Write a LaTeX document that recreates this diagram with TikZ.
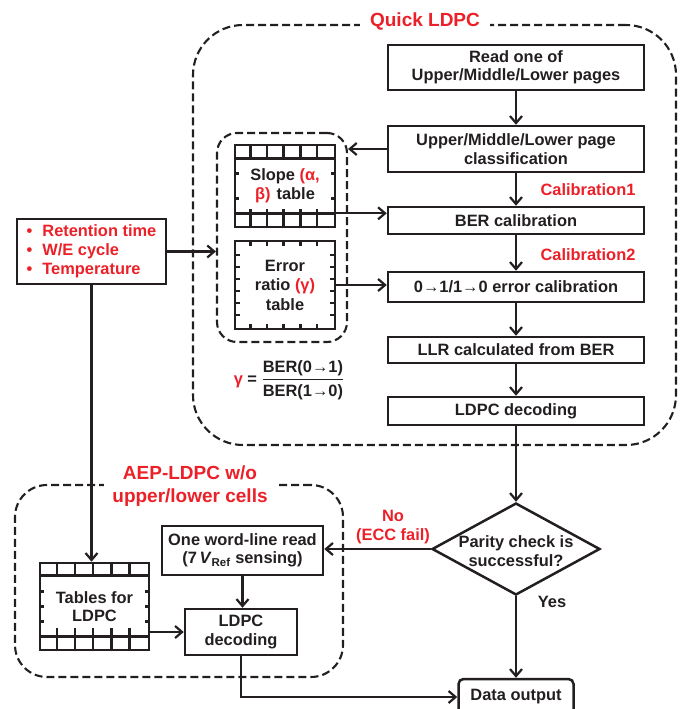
\documentclass[tikz,border=0pt]{standalone}
\usepackage{amsmath}
\usepackage{fontspec}
\setmainfont{Liberation Sans}
\usetikzlibrary{shapes.geometric,arrows.meta}
\definecolor{ldpcred}{RGB}{236,32,40}
\definecolor{ink}{RGB}{35,31,32}
\tikzset{
	proc/.style={draw=ink, line width=2.5pt, text=ink, align=center, inner sep=0pt, font=\fontsize{16.4}{18.5}\selectfont\bfseries},
	tbl/.style={proc, line width=2.6pt},
	grp/.style={draw=ink, line width=2.1pt, dash pattern=on 8pt off 4pt, inner sep=0pt},
	grid/.style={ink, line width=2.5pt},
	arr/.style={->, draw=ink, line width=2.2pt},
	note/.style={text=ldpcred, align=center, font=\fontsize{16.4}{19}\selectfont\bfseries},
	title/.style={text=ldpcred, fill=white, align=center, inner xsep=10pt, inner ysep=1pt, font=\fontsize{19}{23}\selectfont\bfseries},
}

\begin{document}
\begin{tikzpicture}[x=1pt, y=-1pt, >={Straight Barb[length=7pt,width=12pt]}]
	\useasboundingbox (0,0) rectangle (685,709);
	% dashed groups
	\node[grp, rounded corners=50pt, minimum width=483pt, minimum height=420pt] (quick) at (434.5,235) {};
	\node[grp, rounded corners=20pt, minimum width=130pt, minimum height=209pt] (inner) at (282,237.5) {};
	\node[grp, rounded corners=32pt, minimum width=328pt, minimum height=192pt] (aep) at (179,581) {};
	\node[title] (qtitle) at (425,21) {Quick LDPC};
	\node[title, inner xsep=8pt] (atitle) at (190,486.5) {AEP-LDPC w/o\\upper/lower cells};
	
	% quick LDPC column
	\node[proc, minimum width=256pt, minimum height=45pt] (read) at (516,67.5) {Read one of\\Upper/Middle/Lower pages};
	\node[proc, minimum width=256pt, minimum height=46pt] (cls) at (516,149) {Upper/Middle/Lower page\\classification};
	\node[proc, minimum width=256pt, minimum height=27pt] (ber) at (516,220.5) {BER calibration};
	\node[proc, minimum width=256pt, minimum height=30pt] (err) at (516,287) {0→1/1→0 error calibration};
	\node[proc, minimum width=256pt, minimum height=26pt] (llr) at (516,350) {LLR calculated from BER};
	\node[proc, minimum width=256pt, minimum height=28pt] (dec) at (516,411) {LDPC decoding};
	\node[note] (cal1) at (588,190) {Calibration1};
	\node[note] (cal2) at (588,255) {Calibration2};
	
	% tables
	\node[tbl, minimum width=100pt, minimum height=82pt] (sl) at (285,186) {Slope {\color{ldpcred}(α,}\\{\color{ldpcred}β)}\hspace{6pt}table};
	\node[tbl, minimum width=100pt, minimum height=88pt, font=\fontsize{16.4}{19.5}\selectfont\bfseries] (er) at (285,285) {Error\\ratio {\color{ldpcred}(γ)}\\table};
	\node[tbl, minimum width=109pt, minimum height=87pt] (tl) at (94.5,606.5) {Tables for\\LDPC};
	\node[proc, draw=none] (gam) at (289,380) {\textcolor{ldpcred}{γ} = $\dfrac{\text{BER(0→1)}}{\text{BER(1→0)}}$};
	
	% conditions
	\node[proc, text=ldpcred, align=left, minimum width=149pt, minimum height=65pt, font=\fontsize{16.4}{19}\selectfont\bfseries] (ret) at (91.5,251.5) {\textbullet\hspace{10pt}Retention time\\\textbullet\hspace{10pt}W/E cycle\\\textbullet\hspace{10pt}Temperature};
	
	% check and output
	\node[proc, diamond, minimum width=168pt, minimum height=92pt, label={[proc, draw=none, font=\fontsize{16.4}{19.5}\selectfont\bfseries, yshift=-2pt]center:Parity check is\\successful?}] (dia) at (516,549) {};
	\node[proc, rounded corners=5pt, minimum width=115pt, minimum height=36pt] (out) at (516,697) {Data output};
	\node[proc, draw=none] (yes) at (552,602) {Yes};
	\node[note] (no) at (393,527) {No\\(ECC fail)};
	
	% AEP-LDPC
	\node[proc, minimum width=161pt, minimum height=49pt] (wl) at (242.5,550.5) {One word-line read\\(7\,\textit{V}\textsubscript{Ref} sensing)};
	\node[proc, minimum width=112pt, minimum height=46pt] (ad) at (241,632) {LDPC\\decoding};
	
	% slope table cells
	\draw[grid] ([yshift=-15pt]sl.north west) -- ([yshift=-15pt]sl.north east);
	\draw[grid] ([yshift=15pt]sl.south west) -- ([yshift=15pt]sl.south east);
	\foreach \i in {1,...,5} {
		\draw[grid] ([xshift=\i*100pt/6]sl.north west) -- ++(0,15);
		\draw[grid] ([xshift=\i*100pt/6]sl.south west) -- ++(0,-19);
	}
	\foreach \s in {-12.5,12.5} {
		\draw[grid] ([yshift=\s*1pt]sl.west) -- ++(5,0);
		\draw[grid] ([yshift=\s*1pt]sl.east) -- ++(-5,0);
	}
	% error ratio table ticks
	\foreach \i in {1,...,5} {
		\draw[grid] ([xshift=\i*100pt/6]er.north west) -- ++(0,6);
		\draw[grid] ([xshift=\i*100pt/6]er.south west) -- ++(0,-6);
	}
	\foreach \s in {-30,-18,-6,6,18,30} {
		\draw[grid] ([yshift=\s*1pt]er.west) -- ++(6,0);
		\draw[grid] ([yshift=\s*1pt]er.east) -- ++(-6,0);
	}
	% LDPC table cells
	\draw[grid] ([yshift=-14pt]tl.north west) -- ([yshift=-14pt]tl.north east);
	\draw[grid] ([yshift=15pt]tl.south west) -- ([yshift=15pt]tl.south east);
	\foreach \i in {1,...,5} {
		\draw[grid] ([xshift=\i*109pt/6]tl.north west) -- ++(0,14);
		\draw[grid] ([xshift=\i*109pt/6]tl.south west) -- ++(0,-23);
	}
	\foreach \s in {-15,0,15} {
		\draw[grid] ([yshift=\s*1pt]tl.west) -- ++(5,0);
		\draw[grid] ([yshift=\s*1pt]tl.east) -- ++(-5,0);
	}
	
	% quick LDPC flow
	\draw[arr] (read) -- (cls);
	\draw[arr] (cls) -- (ber);
	\draw[arr] (ber) -- (err);
	\draw[arr] (err) -- (llr);
	\draw[arr] (llr) -- (dec);
	\draw[arr] (dec) -- (dia);
	\draw[arr] (dia) -- (out);
	% tables in and out
	\draw[arr] (cls.west) -- (cls.west -| inner.east);
	\draw[arr] ([yshift=15pt]sl.south east) -- ([yshift=15pt]sl.south east -| ber.west);
	\draw[arr] (er.east) -- (er.east -| err.west);
	\draw[arr] (ret.east) -- (ret.east -| inner.west);
	\draw[arr] (ret.south) -- (ret.south |- tl.north);
	% failed check
	\draw[arr] (dia.west) -- (dia.west -| wl.east);
	\draw[arr] (wl.south) -- (wl.south |- ad.north);
	\draw[arr] (ad.west -| tl.east) -- (ad.west);
	\draw[arr] (ad.south) |- (out.west);
\end{tikzpicture}
\end{document}
